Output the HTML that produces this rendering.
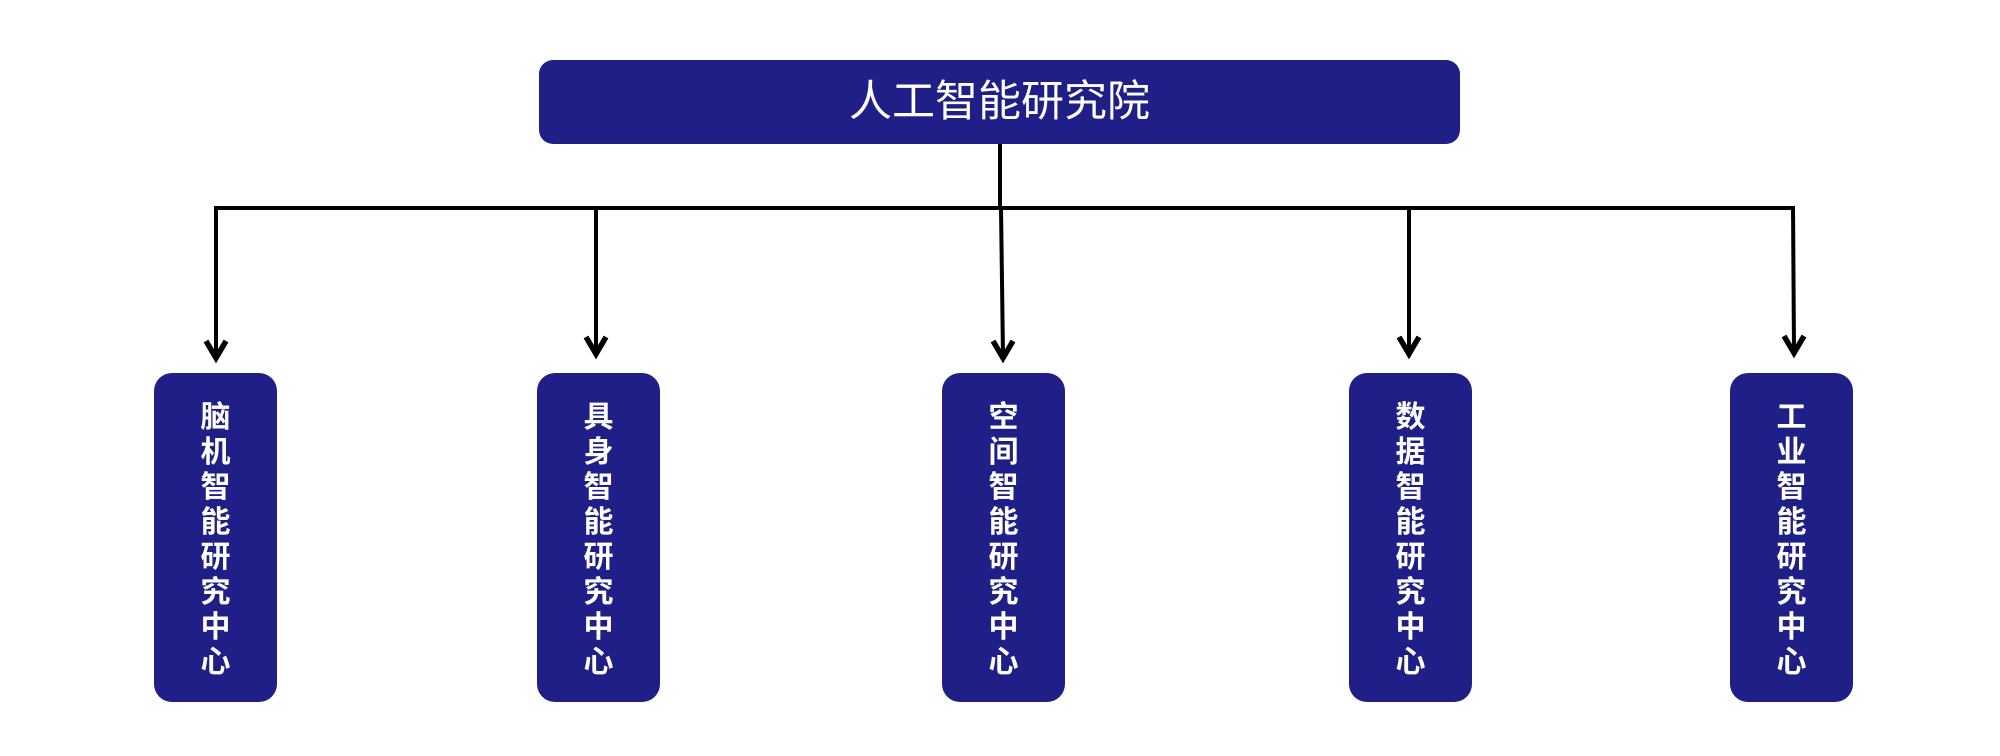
<!DOCTYPE html>
<html><head><meta charset="utf-8"><style>
html,body{margin:0;padding:0;background:#fff;}
body{width:2000px;height:756px;position:relative;overflow:hidden;}
.top{position:absolute;left:539px;top:60px;width:921px;height:84px;background:#1f1f87;border-radius:14px;color:#fff;font-family:"Liberation Sans","Noto Sans CJK SC",sans-serif;font-size:43px;line-height:84px;text-align:center;}
.box{position:absolute;top:373px;width:123px;height:329px;background:#1f1f87;border-radius:18px;color:#fff;font-family:"Liberation Sans","Noto Sans CJK SC",sans-serif;font-weight:bold;font-size:30px;line-height:35px;text-align:center;box-sizing:border-box;padding-top:27px;}
svg{position:absolute;left:0;top:0;}
</style></head><body>
<svg width="2000" height="756">
<g stroke="#000" stroke-width="4" fill="none">
<line x1="1000" y1="144" x2="1000" y2="208"/>
<line x1="214" y1="208" x2="1795" y2="208"/>
<line x1="216" y1="206" x2="216" y2="356"/>
<line x1="596" y1="208" x2="596" y2="352"/>
<line x1="1001" y1="208" x2="1003" y2="356"/>
<line x1="1409" y1="208" x2="1409" y2="352"/>
<line x1="1793" y1="206" x2="1794" y2="350"/>
</g>
<g stroke="#000" stroke-width="5.5" fill="none" stroke-linejoin="miter">
<polyline points="206,341 216,358 226,341"/>
<polyline points="586,337 596,354 606,337"/>
<polyline points="993,341 1003,358 1013,341"/>
<polyline points="1399,337 1409,354 1419,337"/>
<polyline points="1784,336 1794,353 1804,336"/>
</g>
</svg>
<div class="top">人工智能研究院</div>
<div class="box" style="left:154px">脑<br>机<br>智<br>能<br>研<br>究<br>中<br>心</div>
<div class="box" style="left:537px">具<br>身<br>智<br>能<br>研<br>究<br>中<br>心</div>
<div class="box" style="left:942px">空<br>间<br>智<br>能<br>研<br>究<br>中<br>心</div>
<div class="box" style="left:1349px">数<br>据<br>智<br>能<br>研<br>究<br>中<br>心</div>
<div class="box" style="left:1730px">工<br>业<br>智<br>能<br>研<br>究<br>中<br>心</div>
</body></html>
